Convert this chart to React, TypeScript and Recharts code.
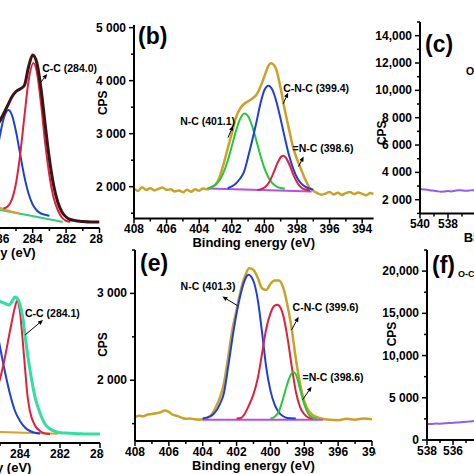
import React from 'react';
import { LineChart, Line, XAxis, YAxis, ReferenceDot } from 'recharts';

type Pt = [number, number];

// ---------- Panel (a) C1s (partly cropped) ----------
const A_ENVELOPE: Pt[] = [
  [286.5, 3250], [286.25, 3420], [286.0, 3520], [285.75, 3680], [285.5, 3850], [285.25, 4020],
  [285.0, 4130], [284.75, 4180], [284.5, 4250], [284.25, 4620], [284.0, 4860], [283.75, 4700],
  [283.5, 4180], [283.25, 3460], [283.0, 2780], [282.75, 2260], [282.5, 1920], [282.25, 1720],
  [282.0, 1620], [281.75, 1570], [281.5, 1550], [281.0, 1530], [280.5, 1520], [280.0, 1520],
];
const A_CO: Pt[] = [
  [286.75, 2090], [286.5, 2345], [286.25, 2735], [286.0, 3185], [285.75, 3575], [285.45, 3760],
  [285.25, 3665], [285.0, 3330], [284.75, 2875], [284.5, 2430], [284.25, 2090], [284.0, 1870],
  [283.75, 1750], [283.5, 1690], [283.25, 1665], [283.0, 1645],
];
const A_CC: Pt[] = [
  [285.75, 1790], [285.5, 1830], [285.25, 1966], [285.0, 2296], [284.75, 2868], [284.5, 3623],
  [284.25, 4335], [283.95, 4700], [283.75, 4515], [283.5, 3880], [283.25, 3085], [283.0, 2450],
  [282.75, 2010], [282.5, 1760], [282.25, 1610], [282.0, 1545], [281.75, 1525],
];
const A_BASE: Pt[] = [[286.5, 1795], [284.5, 1670], [282.2, 1520]];
const A_SAT: Pt[] = [[287.0, 1930], [286.5, 1870], [286.0, 1810], [285.5, 1750], [285.0, 1705], [284.75, 1690]];
const A_NOTE_AT: Pt = [283.55, 4300];
const A_NOTE_TEXT = 'C-C (284.0)';

// ---------- Panel (b) N1s ----------
const B_ENVELOPE: Pt[] = [
  [408.0, 1960], [407.75, 1920], [407.5, 1990], [407.25, 1940], [407.0, 1970], [406.75, 1930],
  [406.5, 1960], [406.25, 1985], [406.0, 1940], [405.75, 1950], [405.5, 1910], [405.25, 1930],
  [405.0, 1895], [404.75, 1940], [404.5, 1905], [404.25, 1950], [404.0, 1925], [403.75, 1965],
  [403.5, 1950], [403.25, 1995], [403.0, 2040], [402.75, 2180], [402.5, 2430], [402.25, 2720],
  [402.0, 3000], [401.75, 3300], [401.5, 3470], [401.25, 3560], [401.0, 3610], [400.75, 3660],
  [400.5, 3730], [400.25, 3880], [400.0, 4080], [399.75, 4280], [399.6, 4330], [399.5, 4320],
  [399.25, 4190], [399.0, 3850], [398.75, 3450], [398.5, 3100], [398.25, 2760], [398.0, 2520],
  [397.75, 2330], [397.5, 2140], [397.25, 1990], [397.0, 1925], [396.75, 1880], [396.5, 1850],
  [396.25, 1870], [396.0, 1900], [395.75, 1855], [395.5, 1885], [395.25, 1845], [395.0, 1880],
  [394.75, 1900], [394.5, 1860], [394.25, 1890], [394.0, 1865], [393.75, 1840], [393.5, 1880],
  [393.3, 1860],
];
const B_NC: Pt[] = [
  [403.5, 1968], [403.25, 1989], [403.0, 2035], [402.75, 2123], [402.5, 2272], [402.25, 2490],
  [402.0, 2762], [401.75, 3044], [401.5, 3270], [401.2, 3380], [401.0, 3330], [400.75, 3145],
  [400.5, 2877], [400.25, 2594], [400.0, 2351], [399.75, 2175], [399.5, 2064], [399.25, 2003],
  [399.0, 1974], [398.75, 1960],
];
const B_CNC: Pt[] = [
  [402.25, 1971], [402.0, 2004], [401.75, 2060], [401.5, 2150], [401.25, 2280], [401.0, 2560],
  [400.75, 2870], [400.5, 3200], [400.25, 3560], [400.0, 3822], [399.75, 3905], [399.5, 3822],
  [399.25, 3590], [399.0, 3270], [398.75, 2925], [398.5, 2605], [398.25, 2355], [398.0, 2175],
  [397.75, 2063], [397.5, 2000], [397.25, 1965], [397.0, 1945],
];
const B_EQNC: Pt[] = [
  [400.45, 1940], [400.2, 1955], [399.95, 1995], [399.7, 2090], [399.45, 2255], [399.2, 2445],
  [398.95, 2572], [398.85, 2585], [398.7, 2556], [398.45, 2405], [398.2, 2210], [397.95, 2060],
  [397.7, 1975], [397.45, 1943], [397.2, 1930],
];
const B_BASE: Pt[] = [[403.4, 1965], [397.1, 1910]];
const B_NOTE_AT: Pt[] = [[402.23, 2925], [398.85, 3565], [397.9, 2380]];
const B_NOTE_TEXT = ['N-C (401.1)', 'C-N-C (399.4)', '=N-C (398.6)'];
const B_Y_TICKS = [2000, 3000, 4000, 5000];
const B_Y_LABELS = ['2 000', '3 000', '4 000', '5 000'];

// ---------- Panel (c) O1s (cropped) ----------
const C_SPECTRUM: Pt[] = [
  [540, 2790], [539.75, 2750], [539.5, 2730], [539.25, 2680], [539, 2660], [538.75, 2620],
  [538.5, 2590], [538.25, 2600], [538, 2630], [537.75, 2610], [537.5, 2660], [537.25, 2700],
  [537, 2680], [536.75, 2650], [536.5, 2670], [536.25, 2700], [536, 2690], [535.75, 2720],
  [535.5, 2700], [535.25, 2740], [535, 2760],
];
const C_Y_TICKS = [2000, 4000, 6000, 8000, 10000, 12000, 14000];
const C_Y_LABELS = ['2 000', '4 000', '6 000', '8 000', '10,000', '12,000', '14,000'];

// ---------- Panel (d) C1s ----------
const D_ENVELOPE: Pt[] = [
  [285.75, 3040], [285.5, 3010], [285.25, 3000], [285.0, 2985], [284.75, 2965], [284.55, 2950],
  [284.4, 2985], [284.25, 3030], [284.1, 3005], [284.0, 2955], [283.85, 2810], [283.7, 2570],
  [283.5, 2300], [283.25, 2030], [283.0, 1870], [282.75, 1760], [282.5, 1710], [282.25, 1685],
  [282.0, 1672], [281.5, 1668], [281.0, 1662], [280.5, 1660], [280.0, 1660],
];
const D_CC: Pt[] = [
  [285.5, 1920], [285.25, 2060], [285.0, 2210], [284.75, 2430], [284.5, 2690], [284.25, 2930],
  [284.15, 2990], [284.0, 2880], [283.875, 2620], [283.75, 2320], [283.625, 2040], [283.5, 1885],
  [283.25, 1745], [283.0, 1690], [282.75, 1665], [282.5, 1660],
];
const D_CO: Pt[] = [
  [285.25, 2800], [285.0, 2530], [284.75, 2280], [284.5, 2060], [284.25, 1890], [284.0, 1790],
  [283.75, 1725], [283.5, 1690], [283.25, 1672], [283.0, 1665],
];
const D_BASE: Pt[] = [[285.5, 1682], [282.1, 1662]];
const D_NOTE_AT: Pt = [283.75, 2650];
const D_NOTE_TEXT = 'C-C (284.1)';

// ---------- Panel (e) N1s ----------
const E_ENVELOPE: Pt[] = [
  [408.0, 1575], [407.75, 1590], [407.5, 1585], [407.25, 1605], [407.0, 1610], [406.75, 1620],
  [406.5, 1630], [406.25, 1650], [406.0, 1635], [405.75, 1600], [405.5, 1590], [405.25, 1570],
  [405.0, 1555], [404.75, 1560], [404.5, 1550], [404.25, 1545], [404.0, 1550], [403.75, 1565],
  [403.5, 1600], [403.25, 1680], [403.0, 1790], [402.75, 1960], [402.5, 2260], [402.25, 2580],
  [402.0, 2810], [401.75, 3040], [401.5, 3200], [401.25, 3290], [401.0, 3270], [400.75, 3180],
  [400.5, 3060], [400.25, 3040], [400.0, 3110], [399.75, 3150], [399.5, 3150], [399.25, 3070],
  [399.0, 2870], [398.75, 2600], [398.5, 2250], [398.25, 1960], [398.0, 1760], [397.75, 1650],
  [397.5, 1600], [397.25, 1575], [397.0, 1560], [396.5, 1545], [396.0, 1540], [395.5, 1555],
  [395.0, 1545], [394.5, 1560], [394.0, 1550],
];
const E_NC: Pt[] = [
  [404.0, 1560], [403.5, 1590], [403.0, 1720], [402.75, 1850], [402.5, 2150], [402.25, 2480],
  [402.0, 2770], [401.75, 3000], [401.5, 3160], [401.3, 3215], [401.0, 3140], [400.75, 2930],
  [400.5, 2560], [400.25, 2150], [400.0, 1880], [399.75, 1720], [399.5, 1630], [399.25, 1585],
  [399.0, 1565], [398.5, 1560],
];
const E_CNC: Pt[] = [
  [402.0, 1560], [401.75, 1565], [401.5, 1620], [401.25, 1720], [401.0, 1840], [400.75, 2020],
  [400.5, 2300], [400.25, 2590], [400.0, 2770], [399.75, 2860], [399.6, 2870], [399.5, 2860],
  [399.25, 2750], [399.0, 2500], [398.75, 2170], [398.5, 1870], [398.25, 1690], [398.0, 1610],
  [397.75, 1570], [397.5, 1560],
];
const E_EQNC: Pt[] = [
  [400.0, 1560], [399.75, 1580], [399.5, 1640], [399.25, 1790], [399.0, 1960], [398.75, 2080],
  [398.65, 2095], [398.5, 2070], [398.25, 1900], [398.0, 1720], [397.75, 1610], [397.5, 1570],
  [397.25, 1560],
];
const E_BASE: Pt[] = [[404.0, 1545], [396.9, 1545]];
const E_NOTE_AT: Pt[] = [[401.95, 2860], [398.75, 2580], [398.1, 1775]];
const E_NOTE_TEXT = ['N-C (401.3)', 'C-N-C (399.6)', '=N-C (398.6)'];
const E_Y_TICKS = [2000, 3000];
const E_Y_LABELS = ['2 000', '3 000'];

// ---------- Panel (f) O1s (cropped) ----------
const F_SPECTRUM: Pt[] = [
  [538, 1900], [537.75, 1880], [537.5, 1920], [537.25, 1940], [537, 1930], [536.75, 1960],
  [536.5, 1990], [536.25, 2010], [536, 2040], [535.75, 2060], [535.5, 2090], [535.25, 2120],
  [535, 2150], [534.75, 2190], [534.5, 2230], [534.25, 2260], [534, 2300],
];
const F_Y_TICKS = [0, 5000, 10000, 15000, 20000];
const F_Y_LABELS = ['0', '5 000', '10,000', '15,000', '20,000'];

const X_TITLE = 'Binding energy (eV)';
const Y_TITLE = 'CPS';
const O_LABEL = 'O-C=O';

// ---------- helpers ----------
const FONT = '"Liberation Sans", Arial, Helvetica, sans-serif';
const range = (a: number, b: number, step: number) => {
  const out: number[] = [];
  for (let v = a; v <= b + 1e-9; v += step) out.push(Math.round(v * 100) / 100);
  return out;
};
const rows = (pts: Pt[]) => pts.map(([x, y]) => ({ x, y }));

const BLACK = '#000';
const GOLD = '#c9a227';
const BLUE = '#1f3fdc';
const RED = '#e1203d';
const GREEN = '#25c83a';
const MAGENTA = '#b64ee8';
const PURPLE = '#8f5cf5';
const MAROON = '#3b1416';
const MINT = '#30e0a0';
const ORANGE = '#dba12a';
const TEAL = '#34cc78';

interface Series { pts: Pt[]; color: string; width: number }
interface Note { at: Pt; text: string; arrow?: [number, number]; pos: [number, number]; anchor: 'start' | 'end'; size: number }
interface Panel {
  id: string;
  x0: number; x1: number; y0: number; y1: number;
  xDomain: [number, number]; yDomain: [number, number];
  xMajor: number[]; xMinor: number[];
  yMajor: number[]; yMinor: number[]; yLabels: string[];
  cps?: [number, number];
  series: Series[];
  notes: Note[];
}

const L = 60, R = 4, T = 4, B = 40;

function makeXTick(major: number[]) {
  return (p: any) => {
    const v = p.payload?.value;
    const isMajor = major.includes(v);
    return (
      <g>
        <line x1={p.x} x2={p.x} y1={p.y} y2={p.y + (isMajor ? 5 : 3)} stroke={BLACK} strokeWidth={1.5} />
        {isMajor && (
          <text x={p.x} y={p.y + 15} textAnchor="middle" fontFamily={FONT} fontSize={12} fontWeight={700} fill={BLACK}>
            {v}
          </text>
        )}
      </g>
    );
  };
}

function makeYTick(major: number[], labels: string[]) {
  return (p: any) => {
    const v = p.payload?.value;
    const i = major.indexOf(v);
    return (
      <g>
        <line x1={p.x} x2={p.x - (i >= 0 ? 5 : 3)} y1={p.y} y2={p.y} stroke={BLACK} strokeWidth={1.5} />
        {i >= 0 && (
          <text x={p.x - 8} y={p.y + 4} textAnchor="end" fontFamily={FONT} fontSize={12} fontWeight={700} fill={BLACK}>
            {labels[i]}
          </text>
        )}
      </g>
    );
  };
}

function noteShape(n: Note) {
  return (p: any) => {
    const cx = p.cx, cy = p.cy;
    if (typeof cx !== 'number' || typeof cy !== 'number') return <g />;
    let arrow = null;
    if (n.arrow) {
      const [dx, dy] = n.arrow;
      const ex = cx + dx, ey = cy + dy;
      const len = Math.hypot(dx, dy) || 1;
      const ux = dx / len, uy = dy / len;
      const bx = ex - ux * 5, by = ey - uy * 5;
      const px = -uy * 2.2, py = ux * 2.2;
      arrow = (
        <g>
          <line x1={cx} y1={cy} x2={bx} y2={by} stroke={BLACK} strokeWidth={1} />
          <polygon points={`${ex},${ey} ${bx + px},${by + py} ${bx - px},${by - py}`} fill={BLACK} />
        </g>
      );
    }
    return (
      <g>
        {arrow}
        <text x={cx + n.pos[0]} y={cy + n.pos[1]} textAnchor={n.anchor} fontFamily={FONT} fontSize={n.size} fontWeight={700} fill={BLACK}>
          {n.text}
        </text>
      </g>
    );
  };
}

function PanelChart({ cfg }: { cfg: Panel }) {
  const w = cfg.x1 - cfg.x0 + L + R;
  const h = cfg.y1 - cfg.y0 + T + B;
  const xTitle = (props: any) => {
    const vb = props?.viewBox;
    if (!vb) return null;
    return (
      <text x={vb.x + vb.width / 2} y={vb.y + 28.5} textAnchor="middle" fontFamily={FONT} fontSize={13} fontWeight={700} fill={BLACK}>
        {X_TITLE}
      </text>
    );
  };
  const yTitle = (props: any) => {
    const vb = props?.viewBox;
    if (!vb || !cfg.cps) return null;
    const x = vb.x + vb.width + cfg.cps[0];
    const y = vb.y + vb.height / 2 + cfg.cps[1];
    return (
      <text x={x} y={y} transform={`rotate(-90 ${x} ${y})`} textAnchor="middle" dominantBaseline="central" fontFamily={FONT} fontSize={12} fontWeight={700} fill={BLACK}>
        {Y_TITLE}
      </text>
    );
  };
  return (
    <div style={{ position: 'absolute', left: cfg.x0 - L, top: cfg.y0 - T }}>
      <LineChart width={w} height={h} margin={{ top: T, right: R, bottom: 0, left: 0 }}>
        <XAxis
          type="number"
          dataKey="x"
          domain={cfg.xDomain}
          reversed
          allowDataOverflow
          ticks={[...cfg.xMajor, ...cfg.xMinor]}
          interval={0}
          tickSize={0}
          tickMargin={0}
          tickLine={false}
          height={B}
          axisLine={{ stroke: BLACK, strokeWidth: 2 }}
          tick={makeXTick(cfg.xMajor)}
          label={xTitle}
        />
        <YAxis
          type="number"
          dataKey="y"
          domain={cfg.yDomain}
          allowDataOverflow
          width={L}
          ticks={[...cfg.yMajor, ...cfg.yMinor]}
          interval={0}
          tickSize={0}
          tickMargin={0}
          tickLine={false}
          axisLine={{ stroke: BLACK, strokeWidth: 2 }}
          tick={makeYTick(cfg.yMajor, cfg.yLabels)}
          label={yTitle}
        />
        {cfg.series.map((s, i) => (
          <Line
            key={`${cfg.id}-s${i}`}
            data={rows(s.pts)}
            dataKey="y"
            type="monotone"
            stroke={s.color}
            strokeWidth={s.width}
            dot={false}
            activeDot={false}
            isAnimationActive={false}
          />
        ))}
        {cfg.notes.map((n, i) => (
          <ReferenceDot
            key={`${cfg.id}-n${i}`}
            x={n.at[0]}
            y={n.at[1]}
            r={1}
            ifOverflow="visible"
            shape={noteShape(n)}
          />
        ))}
      </LineChart>
    </div>
  );
}

const letter = (xDom: [number, number], yDom: [number, number], text: string, pos: [number, number], size = 23): Note => ({
  at: [xDom[1], yDom[1]], text, pos, anchor: 'start', size,
});

const PANELS: Panel[] = [
  {
    id: 'a', x0: -151.5, x1: 99, y0: 20, y1: 228,
    xDomain: [280, 295], yDomain: [1400, 5560],
    xMajor: [280, 282, 284, 286], xMinor: [281, 283, 285, 287],
    yMajor: [], yMinor: [], yLabels: [],
    series: [
      { pts: A_BASE, color: TEAL, width: 2 },
      { pts: A_SAT, color: ORANGE, width: 2 },
      { pts: A_CO, color: BLUE, width: 2 },
      { pts: A_CC, color: RED, width: 2 },
      { pts: A_ENVELOPE, color: MAROON, width: 3 },
    ],
    notes: [{ at: A_NOTE_AT, text: A_NOTE_TEXT, arrow: [7, -9], pos: [2, -11], anchor: 'start', size: 10.5 }],
  },
  {
    id: 'b', x0: 134, x1: 373.6, y0: 24.5, y1: 218,
    xDomain: [393.3, 408], yDomain: [1400, 5050],
    xMajor: range(394, 408, 2), xMinor: range(395, 407, 2),
    yMajor: B_Y_TICKS, yMinor: [1500, 2500, 3500, 4500], yLabels: B_Y_LABELS,
    cps: [-31, -19],
    series: [
      { pts: B_ENVELOPE, color: GOLD, width: 2.5 },
      { pts: B_BASE, color: MAGENTA, width: 2 },
      { pts: B_NC, color: GREEN, width: 2 },
      { pts: B_CNC, color: BLUE, width: 2 },
      { pts: B_EQNC, color: RED, width: 2 },
    ],
    notes: [
      { at: B_NOTE_AT[0], text: B_NOTE_TEXT[0], arrow: [5, -12], pos: [7, -13], anchor: 'end', size: 10.5 },
      { at: B_NOTE_AT[1], text: B_NOTE_TEXT[1], arrow: [5, -11], pos: [0, -12], anchor: 'start', size: 10.5 },
      { at: B_NOTE_AT[2], text: B_NOTE_TEXT[2], arrow: [5, -10], pos: [-6, -15], anchor: 'start', size: 10.5 },
      letter([393.3, 408], [1400, 5050], '(b)', [4, 19]),
    ],
  },
  {
    id: 'c', x0: 420, x1: 630, y0: 21.6, y1: 213,
    xDomain: [525, 540], yDomain: [1000, 15000],
    xMajor: [538, 540], xMinor: [537, 539],
    yMajor: C_Y_TICKS, yMinor: range(1000, 15000, 2000), yLabels: C_Y_LABELS,
    cps: [-38, 15],
    series: [{ pts: C_SPECTRUM, color: PURPLE, width: 2 }],
    notes: [
      letter([525, 540], [1000, 15000], '(c)', [5, 30]),
      letter([525, 540], [1000, 15000], O_LABEL, [46, 53], 10.5),
    ],
  },
  {
    id: 'd', x0: -160, x1: 100, y0: 250, y1: 443,
    xDomain: [280, 293], yDomain: [1570, 3500],
    xMajor: [280, 282, 284], xMinor: [281, 283, 285],
    yMajor: [], yMinor: [], yLabels: [],
    series: [
      { pts: D_BASE, color: ORANGE, width: 2 },
      { pts: D_CO, color: BLUE, width: 2 },
      { pts: D_CC, color: RED, width: 2 },
      { pts: D_ENVELOPE, color: MINT, width: 3 },
    ],
    notes: [{ at: D_NOTE_AT, text: D_NOTE_TEXT, arrow: [18, -15], pos: [0, -18], anchor: 'start', size: 10.5 }],
  },
  {
    id: 'e', x0: 135, x1: 372, y0: 250, y1: 441,
    xDomain: [394, 408], yDomain: [1300, 3500],
    xMajor: range(394, 408, 2), xMinor: range(395, 407, 2),
    yMajor: E_Y_TICKS, yMinor: [1500, 2500, 3500], yLabels: E_Y_LABELS,
    cps: [-32, -1],
    series: [
      { pts: E_ENVELOPE, color: GOLD, width: 2.5 },
      { pts: E_BASE, color: MAGENTA, width: 2 },
      { pts: E_NC, color: BLUE, width: 2 },
      { pts: E_CNC, color: RED, width: 2 },
      { pts: E_EQNC, color: GREEN, width: 2 },
    ],
    notes: [
      { at: E_NOTE_AT[0], text: E_NOTE_TEXT[0], arrow: [-15, -9], pos: [-2, -16], anchor: 'end', size: 10.5 },
      { at: E_NOTE_AT[1], text: E_NOTE_TEXT[1], arrow: [7, -13], pos: [1, -19], anchor: 'start', size: 10.5 },
      { at: E_NOTE_AT[2], text: E_NOTE_TEXT[2], arrow: [9, -13], pos: [0, -19], anchor: 'start', size: 10.5 },
      letter([394, 408], [1300, 3500], '(e)', [5, 21]),
    ],
  },
  {
    id: 'f', x0: 427, x1: 661, y0: 250, y1: 440,
    xDomain: [520, 538], yDomain: [0, 22500],
    xMajor: [536, 538], xMinor: [535, 537],
    yMajor: F_Y_TICKS, yMinor: [2500, 7500, 12500, 17500, 22500], yLabels: F_Y_LABELS,
    cps: [-35, -11],
    series: [{ pts: F_SPECTRUM, color: PURPLE, width: 2 }],
    notes: [
      letter([520, 538], [0, 22500], '(f)', [5, 23]),
      letter([520, 538], [0, 22500], O_LABEL, [31, 27], 9),
    ],
  },
];

export default function App() {
  return (
    <div style={{ position: 'fixed', left: 0, top: 0, width: 474, height: 474, overflow: 'hidden', background: '#fff' }}>
      {PANELS.map((p) => (
        <PanelChart key={p.id} cfg={p} />
      ))}
    </div>
  );
}
